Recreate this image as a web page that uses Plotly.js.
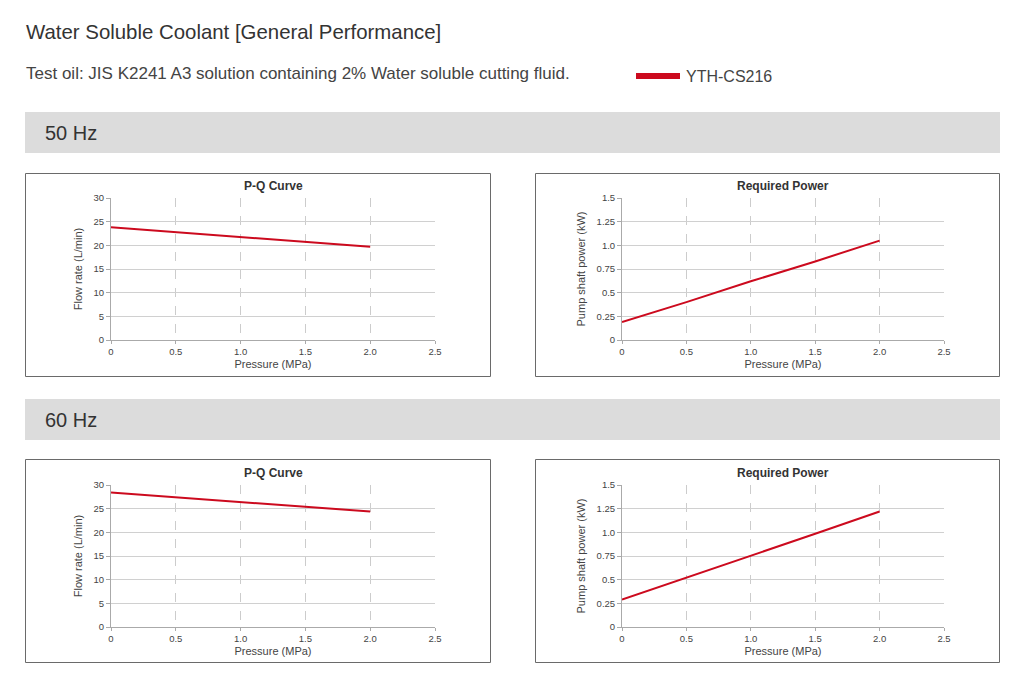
<!DOCTYPE html>
<html>
<head>
<meta charset="utf-8">
<script src="https://cdn.plot.ly/plotly-3.0.1.min.js"></script>
<style>
  html, body { margin: 0; padding: 0; background: #fff; }
  #chart { width: 1024px; height: 683px; }
</style>
</head>
<body>
<div id="chart"></div>
<script>
// values
var pressure = [0, 0.5, 1.0, 1.5, 2.0];
var flow50 = [23.8, 22.8, 21.8, 20.8, 19.7];
var power50 = [0.19, 0.40, 0.62, 0.83, 1.05];
var flow60 = [28.4, 27.4, 26.4, 25.4, 24.4];
var power60 = [0.29, 0.52, 0.755, 0.985, 1.22];

var xTickVals = [0, 0.5, 1.0, 1.5, 2.0, 2.5];
var xTickText = ['0', '0.5', '1.0', '1.5', '2.0', '2.5'];
var flowTickVals = [0, 5, 10, 15, 20, 25, 30];
var powerTickVals = [0, 0.25, 0.5, 0.75, 1.0, 1.25, 1.5];
var powerTickText = ['0', '0.25', '0.5', '0.75', '1.0', '1.25', '1.5'];

var seriesName = 'YTH-CS216';
var red = '#cc0a1e';
var W = 1024, H = 683;
function px(x) { return x / W; }
function py(y) { return 1 - y / H; }

function line(x, y, n) {
  return {
    x: x, y: y, xaxis: 'x' + n, yaxis: 'y' + n,
    type: 'scatter', mode: 'lines', name: seriesName,
    line: {color: red, width: 2}, showlegend: false, hoverinfo: 'x+y'
  };
}

var data = [
  line(pressure, flow50, ''),
  line(pressure, power50, '2'),
  line(pressure, flow60, '3'),
  line(pressure, power60, '4')
];

var tickFont = {size: 9.5, color: '#444'};
var titleFont = {size: 11, color: '#444'};

function xAxis(l, r, anchor) {
  return {
    domain: [px(l), px(r)], anchor: anchor, range: [0, 2.5],
    tickvals: xTickVals, ticktext: xTickText, tickfont: tickFont,
    ticks: 'outside', ticklen: 3, tickcolor: '#aaa',
    showgrid: true, gridcolor: '#cccccc', griddash: 'dash', gridwidth: 1,
    showline: true, linecolor: '#aaa', linewidth: 1, zeroline: false,
    title: {text: 'Pressure (MPa)', font: titleFont, standoff: 3},
    fixedrange: true
  };
}
function yAxis(top, bottom, anchor, vals, text, range, label) {
  return {
    domain: [py(bottom), py(top)], anchor: anchor, range: range,
    tickvals: vals, ticktext: text, tickfont: tickFont,
    ticks: 'outside', ticklen: 4, tickcolor: '#aaa',
    showgrid: true, gridcolor: '#d0d0d0', gridwidth: 1,
    showline: true, linecolor: '#aaa', linewidth: 1, zeroline: false,
    title: {text: label, font: titleFont, standoff: 8},
    fixedrange: true
  };
}

var flowLabel = 'Flow rate (L/min)';
var powerLabel = 'Pump shaft power (kW)';

var layout = {
  width: W, height: H,
  margin: {l: 0, r: 0, t: 0, b: 0},
  paper_bgcolor: '#fff', plot_bgcolor: '#fff',
  font: {family: 'Liberation Sans, Arial, sans-serif', color: '#333'},
  showlegend: false,
  xaxis: xAxis(111, 435, 'y'),
  yaxis: yAxis(198, 340, 'x', flowTickVals, flowTickVals.map(String), [0, 30], flowLabel),
  xaxis2: xAxis(622, 944, 'y2'),
  yaxis2: yAxis(198, 340, 'x2', powerTickVals, powerTickText, [0, 1.5], powerLabel),
  xaxis3: xAxis(111, 435, 'y3'),
  yaxis3: yAxis(485, 627, 'x3', flowTickVals, flowTickVals.map(String), [0, 30], flowLabel),
  xaxis4: xAxis(622, 944, 'y4'),
  yaxis4: yAxis(485, 627, 'x4', powerTickVals, powerTickText, [0, 1.5], powerLabel),
  shapes: [
    // section bands
    {type: 'rect', xref: 'paper', yref: 'paper', x0: px(25), x1: px(1000), y0: py(153), y1: py(112),
     fillcolor: '#dcdcdc', line: {width: 0}, layer: 'below'},
    {type: 'rect', xref: 'paper', yref: 'paper', x0: px(25), x1: px(1000), y0: py(440), y1: py(399),
     fillcolor: '#dcdcdc', line: {width: 0}, layer: 'below'},
    // panel frames
    {type: 'rect', xref: 'paper', yref: 'paper', x0: px(25.5), x1: px(490.5), y0: py(376.5), y1: py(173.5),
     line: {color: '#6a6a6a', width: 1}, layer: 'below'},
    {type: 'rect', xref: 'paper', yref: 'paper', x0: px(535.5), x1: px(999.5), y0: py(376.5), y1: py(173.5),
     line: {color: '#6a6a6a', width: 1}, layer: 'below'},
    {type: 'rect', xref: 'paper', yref: 'paper', x0: px(25.5), x1: px(490.5), y0: py(662.5), y1: py(459.5),
     line: {color: '#6a6a6a', width: 1}, layer: 'below'},
    {type: 'rect', xref: 'paper', yref: 'paper', x0: px(535.5), x1: px(999.5), y0: py(662.5), y1: py(459.5),
     line: {color: '#6a6a6a', width: 1}, layer: 'below'},
    // legend swatch
    {type: 'line', xref: 'paper', yref: 'paper', x0: px(636), x1: px(680), y0: py(76), y1: py(76),
     line: {color: red, width: 6}}
  ],
  annotations: [
    {text: 'Water Soluble Coolant [General Performance]', xref: 'paper', yref: 'paper',
     x: px(24), y: py(32), xanchor: 'left', yanchor: 'middle', showarrow: false,
     font: {size: 20.4, color: '#333'}},
    {text: 'Test oil: JIS K2241 A3 solution containing 2% Water soluble cutting fluid.', xref: 'paper', yref: 'paper',
     x: px(24), y: py(73), xanchor: 'left', yanchor: 'middle', showarrow: false,
     font: {size: 17, color: '#444'}},
    {text: seriesName, xref: 'paper', yref: 'paper',
     x: px(684), y: py(76), xanchor: 'left', yanchor: 'middle', showarrow: false,
     font: {size: 16, color: '#444'}},
    {text: '50 Hz', xref: 'paper', yref: 'paper', x: px(43), y: py(133), xanchor: 'left', yanchor: 'middle',
     showarrow: false, font: {size: 20, color: '#333'}},
    {text: '60 Hz', xref: 'paper', yref: 'paper', x: px(43), y: py(420), xanchor: 'left', yanchor: 'middle',
     showarrow: false, font: {size: 20, color: '#333'}},
    {text: '<b>P-Q Curve</b>', xref: 'paper', yref: 'paper', x: px(273), y: py(186), xanchor: 'center', yanchor: 'middle',
     showarrow: false, font: {size: 12, color: '#333'}},
    {text: '<b>Required Power</b>', xref: 'paper', yref: 'paper', x: px(783), y: py(186), xanchor: 'center', yanchor: 'middle',
     showarrow: false, font: {size: 12, color: '#333'}},
    {text: '<b>P-Q Curve</b>', xref: 'paper', yref: 'paper', x: px(273), y: py(473), xanchor: 'center', yanchor: 'middle',
     showarrow: false, font: {size: 12, color: '#333'}},
    {text: '<b>Required Power</b>', xref: 'paper', yref: 'paper', x: px(783), y: py(473), xanchor: 'center', yanchor: 'middle',
     showarrow: false, font: {size: 12, color: '#333'}}
  ]
};

Plotly.newPlot('chart', data, layout, {displayModeBar: false, staticPlot: true});
</script>
</body>
</html>
